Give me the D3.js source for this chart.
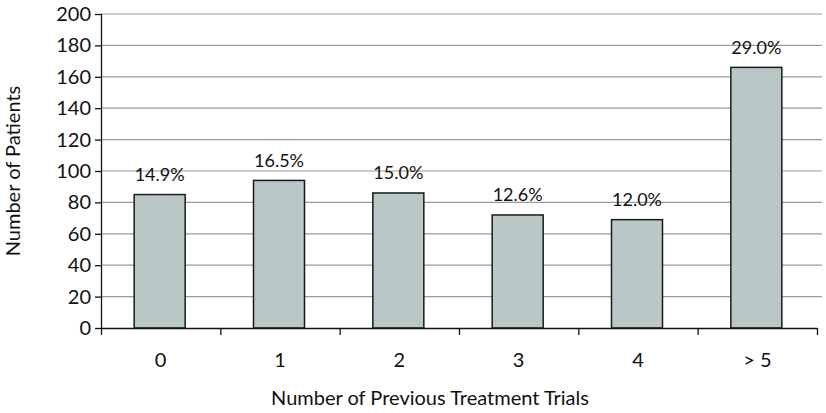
<!DOCTYPE html>
<html>
<head>
<meta charset="utf-8">
<script src="https://cdn.jsdelivr.net/npm/d3@7"></script>
<style>
  html, body { margin: 0; padding: 0; background: #fff; }
  svg { display: block; }
  text { font-family: Lato, "Open Sans", sans-serif; fill: #111; }
</style>
</head>
<body>
<svg id="chart" width="826" height="413"></svg>
<script>
const categories = ["0", "1", "2", "3", "4", "> 5"];
const patients = [85, 94, 86, 72, 69, 166];
const percentLabels = ["14.9%", "16.5%", "15.0%", "12.6%", "12.0%", "29.0%"];
const yTicks = [0, 20, 40, 60, 80, 100, 120, 140, 160, 180, 200];
const xTitle = "Number of Previous Treatment Trials";
const yTitle = "Number of Patients";

const svg = d3.select("#chart");
const margin = { left: 101, right: 9, top: 14, bottom: 85 };
const W = 826, H = 413;
const plotRight = 817;

const x = d3.scaleBand().domain(categories).range([margin.left, plotRight]).paddingInner(0).paddingOuter(0);
const y = d3.scaleLinear().domain([0, 200]).range([H - margin.bottom, margin.top]);

// gridlines
svg.append("g").selectAll("line").data(yTicks.filter(d => d > 0)).join("line")
  .attr("x1", margin.left).attr("x2", 822)
  .attr("y1", d => y(d)).attr("y2", d => y(d))
  .attr("stroke", "#9a9a9a").attr("stroke-width", 1.2);

// bars
const barW = 51;
svg.append("g").selectAll("rect").data(patients).join("rect")
  .attr("x", (d, i) => x(categories[i]) + x.bandwidth() / 2 - barW / 2 - 1)
  .attr("y", d => y(d))
  .attr("width", barW)
  .attr("height", d => y(0) - y(d))
  .attr("fill", "#b9c8c6")
  .attr("stroke", "#1a1a1a").attr("stroke-width", 1.5);

// percent labels
svg.append("g").selectAll("text").data(patients).join("text")
  .attr("x", (d, i) => x(categories[i]) + x.bandwidth() / 2 - 1)
  .attr("y", d => y(d) - 13.5)
  .attr("text-anchor", "middle")
  .attr("font-size", 18)
  .text((d, i) => percentLabels[i]);

// y axis
const yAxis = d3.axisLeft(y).tickValues(yTicks).tickSize(6).tickPadding(4).tickFormat(d3.format("d"));
const gy = svg.append("g").attr("transform", `translate(${margin.left},0)`).call(yAxis);
gy.select(".domain").attr("stroke", "#111").attr("stroke-width", 1.3).attr("d", `M0.5,${y(200)}V${y(0)}`);
gy.selectAll(".tick line").attr("stroke", "#111").attr("stroke-width", 1.3);
gy.selectAll(".tick text").attr("font-size", 20).attr("font-family", "Lato, sans-serif").attr("fill", "#111");

// x axis
const xAxis = d3.axisBottom(x).tickSize(0).tickPadding(25);
const gx = svg.append("g").attr("transform", `translate(0,${y(0)})`).call(xAxis);
gx.select(".domain").attr("stroke", "#111").attr("stroke-width", 1.3).attr("d", `M${margin.left},0.5H${plotRight}`);
gx.selectAll(".tick text").attr("font-size", 20).attr("font-family", "Lato, sans-serif").attr("fill", "#111");
// boundary ticks between categories
const bounds = categories.map(c => x(c)).concat([plotRight]);
svg.append("g").selectAll("line").data(bounds).join("line")
  .attr("x1", d => d + 0.5).attr("x2", d => d + 0.5)
  .attr("y1", y(0)).attr("y2", y(0) + 7)
  .attr("stroke", "#111").attr("stroke-width", 1.3);

// titles
svg.append("text").attr("x", 430).attr("y", 405)
  .attr("text-anchor", "middle").attr("font-size", 20).text(xTitle);
svg.append("text").attr("transform", `translate(20,${(y(0) + y(200)) / 2}) rotate(-90)`)
  .attr("text-anchor", "middle").attr("font-size", 20).text(yTitle);
</script>
</body>
</html>
